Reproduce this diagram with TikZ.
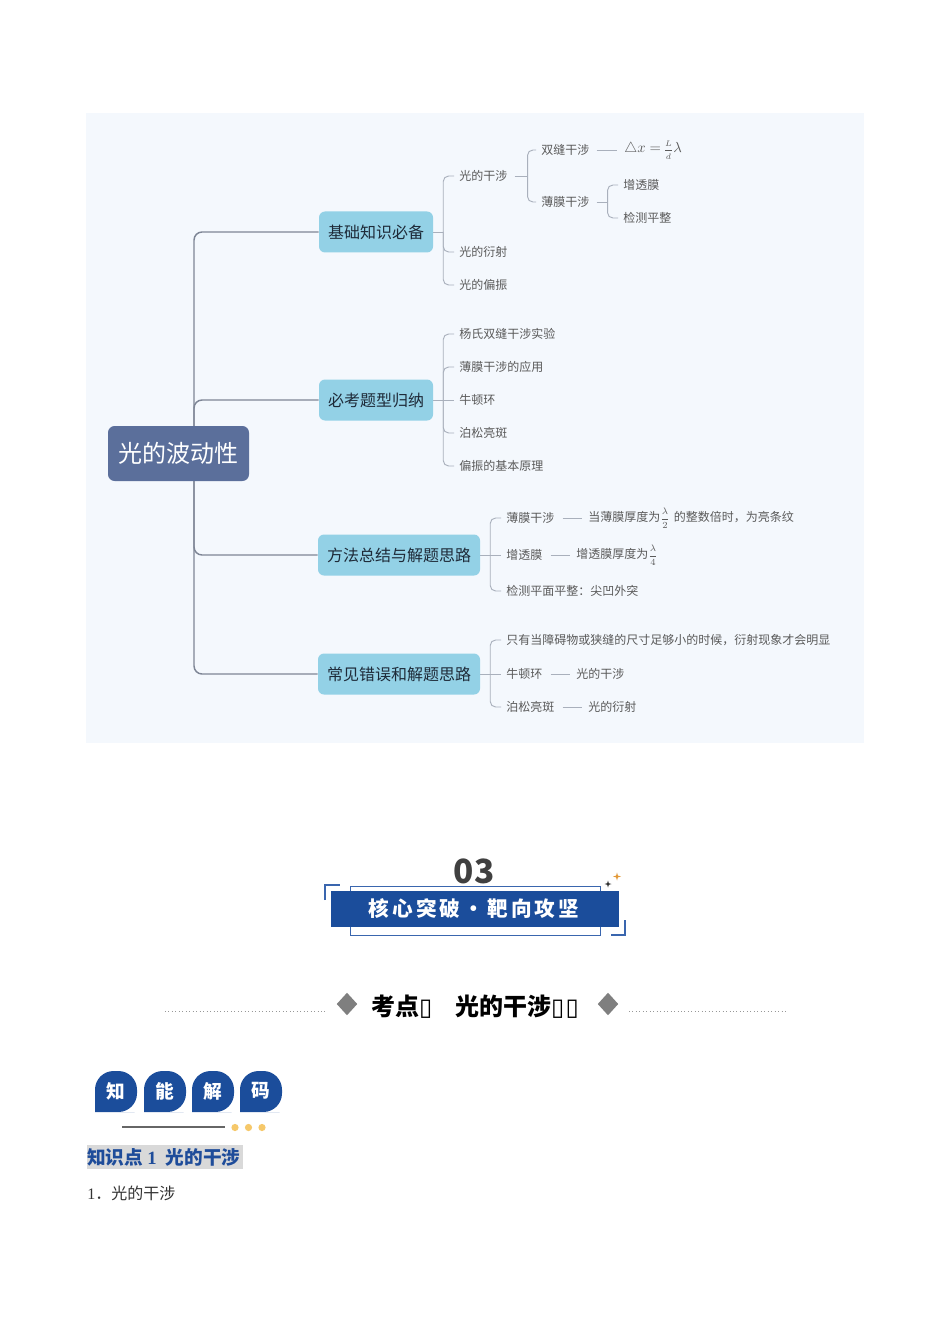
\documentclass[tikz,border=0pt]{standalone}
\usepackage{fontspec}
\setmainfont{Noto Sans CJK SC}
\newfontfamily\serifnum{Liberation Serif}
\newfontfamily\djv{DejaVu Sans}
\usetikzlibrary{calc,shapes.geometric}
\pgfdeclarelayer{back0}
\pgfdeclarelayer{conn}
\pgfsetlayers{back0,conn,main}
\definecolor{panel}{HTML}{F4F8FD}
\definecolor{rootc}{HTML}{5B6F9B}
\definecolor{lonec}{HTML}{93D1E6}
\definecolor{lonetext}{HTML}{1E2A38}
\definecolor{trunkc}{HTML}{7E8696}
\definecolor{leafline}{HTML}{A9B0BC}
\definecolor{leaftext}{HTML}{5A5A5A}
\definecolor{bannerblue}{HTML}{1B4D9B}
\definecolor{bannerline}{HTML}{3A66AE}
\definecolor{headblue}{HTML}{1E4C9A}
\definecolor{dotc}{HTML}{F6C86A}
\definecolor{sparkor}{HTML}{E39A3B}
\definecolor{diamc}{HTML}{7F7F7F}
\newcommand\lsp{\hspace{2.3pt}}
\newcommand\smallfrac[3]{{\fontsize{#3}{8}\selectfont$\displaystyle\frac{#1}{#2}$}}
\begin{document}
\begin{tikzpicture}[x=0.75pt,y=-0.75pt,
  rootbox/.style={fill=rootc,rounded corners=5pt,text=white,font=\fontsize{18}{20}\selectfont,minimum width=105.75pt,minimum height=41.25pt,inner sep=0pt},
  lone/.style={fill=lonec,rounded corners=4.5pt,text=lonetext,font=\fontsize{12}{14}\selectfont,minimum height=30.75pt,inner xsep=6.75pt,inner ysep=0pt},
  leaf/.style={anchor=west,inner sep=0pt,text=leaftext,font=\fontsize{9}{11}\selectfont},
  trunk/.style={draw=trunkc,line width=1.1pt,rounded corners=6pt},
  br/.style={draw=leafline,line width=0.7pt,rounded corners=4pt},
  badge/.style={fill=bannerblue},
  badgetext/.style={text=white,font=\fontsize{14}{16}\bfseries\selectfont,inner sep=0pt}
]
\useasboundingbox (0,0) rectangle (950,1344);
\begin{pgfonlayer}{back0}
  \fill[white] (0,0) rectangle (950,1344);
  \fill[panel] (86,113) rectangle (864,743);
\end{pgfonlayer}

% ---------- mind map nodes ----------
\node[rootbox] (root) at (178.5,453.5) {光的波动性};
\node[lone] (a) at (376,232) {基础知识必备};
\node[lone] (b) at (376,400) {必考题型归纳};
\node[lone] (c) at (399,555) {方法总结与解题思路};
\node[lone] (d) at (399,674) {常见错误和解题思路};

% group a
\node[leaf] (a1) at (459,176) {光的干涉};
\node[leaf] (a2) at (459,252) {光的衍射};
\node[leaf] (a3) at (459,285) {光的偏振};
\node[leaf] (a11) at (541,150) {双缝干涉};
\node[leaf,font=\fontsize{11}{13}\selectfont] (a11f) at (624,150) {$\triangle x=$\,\smallfrac{L}{d}{6.5}$\lambda$};
\node[leaf] (a12) at (541,202) {薄膜干涉};
\node[leaf] (a121) at (623,185) {增透膜};
\node[leaf] (a122) at (623,218) {检测平整};

% group b
\node[leaf] (b1) at (459,334) {杨氏双缝干涉实验};
\node[leaf] (b2) at (459,367) {薄膜干涉的应用};
\node[leaf] (b3) at (459,400) {牛顿环};
\node[leaf] (b4) at (459,433) {泊松亮斑};
\node[leaf] (b5) at (459,466) {偏振的基本原理};

% group c
\node[leaf] (c1) at (506,518) {薄膜干涉};
\node[leaf] (c1b) at (588,518) {当薄膜厚度为\smallfrac{\lambda}{2}{7.5}\hspace{3pt}的整数倍时，为亮条纹};
\node[leaf] (c2) at (506,555) {增透膜};
\node[leaf] (c2b) at (576,555) {增透膜厚度为\smallfrac{\lambda}{4}{7.5}};
\node[leaf] (c3) at (506,591) {检测平面平整：尖凹外突};

% group d
\node[leaf] (d1) at (506,640) {只有当障碍物或狭缝的尺寸足够小的时候，衍射现象才会明显};
\node[leaf] (d2) at (506,674) {牛顿环};
\node[leaf] (d2b) at (576,674) {光的干涉};
\node[leaf] (d3) at (506,707) {泊松亮斑};
\node[leaf] (d3b) at (588,707) {光的衍射};

\coordinate (tr) at (194,453.5);
\coordinate (ja) at ($(a.east)+(10,0)$);
\coordinate (jb) at ($(b.east)+(10,0)$);
\coordinate (jc) at ($(c.east)+(10,0)$);
\coordinate (jd) at ($(d.east)+(10,0)$);
\coordinate (ja1) at ($(a1.east)+(20,0)$);
\coordinate (ja12) at ($(a12.east)+(18,0)$);

\begin{pgfonlayer}{conn}
  % trunk
  \draw[trunk] (tr) |- (a.west);
  \draw[trunk] (tr) |- (b.west);
  \draw[trunk] (tr) |- (c.west);
  \draw[trunk] (tr) |- (d.west);
  % group a
  \draw[br] (a.east) -- (ja);
  \draw[br] (ja) |- ($(a1.west)+(-5,0)$);
  \draw[br] (ja) |- ($(a2.west)+(-5,0)$);
  \draw[br] (ja) |- ($(a3.west)+(-5,0)$);
  \draw[br] ($(a1.east)+(7,0)$) -- (ja1);
  \draw[br] (ja1) |- ($(a11.west)+(-5,0)$);
  \draw[br] (ja1) |- ($(a12.west)+(-5,0)$);
  \draw[br] ($(a11.east)+(7,0)$) -- ($(a11f.west)+(-7,0)$);
  \draw[br] ($(a12.east)+(7,0)$) -- (ja12);
  \draw[br] (ja12) |- ($(a121.west)+(-5,0)$);
  \draw[br] (ja12) |- ($(a122.west)+(-5,0)$);
  % group b
  \draw[br] (b.east) -- (jb);
  \draw[br] (jb) |- ($(b1.west)+(-5,0)$);
  \draw[br] (jb) |- ($(b2.west)+(-5,0)$);
  \draw[br] (jb) -- ($(b3.west)+(-5,0)$);
  \draw[br] (jb) |- ($(b4.west)+(-5,0)$);
  \draw[br] (jb) |- ($(b5.west)+(-5,0)$);
  % group c
  \draw[br] (c.east) -- (jc);
  \draw[br] (jc) |- ($(c1.west)+(-5,0)$);
  \draw[br] (jc) -- ($(c2.west)+(-5,0)$);
  \draw[br] (jc) |- ($(c3.west)+(-5,0)$);
  \draw[br] ($(c1.east)+(8,0)$) -- ($(c1b.west)+(-6,0)$);
  \draw[br] ($(c2.east)+(8,0)$) -- ($(c2b.west)+(-6,0)$);
  % group d
  \draw[br] (d.east) -- (jd);
  \draw[br] (jd) |- ($(d1.west)+(-5,0)$);
  \draw[br] (jd) -- ($(d2.west)+(-5,0)$);
  \draw[br] (jd) |- ($(d3.west)+(-5,0)$);
  \draw[br] ($(d2.east)+(8,0)$) -- ($(d2b.west)+(-6,0)$);
  \draw[br] ($(d3.east)+(8,0)$) -- ($(d3b.west)+(-6,0)$);
\end{pgfonlayer}

% ---------- section banner ----------
\node[font=\fontsize{25}{28}\bfseries\selectfont,text=black!75,inner sep=0pt] (num) at (474,871) {03};
\draw[bannerline,line width=0.6pt] (350,886) rectangle (600,935);
\fill[bannerblue] (331,891) rectangle (619,927);
\node[text=white,font=\fontsize{15.5}{17}\bfseries\selectfont,inner sep=0pt] (bt) at (474,909)
  {核\lsp 心\lsp 突\lsp 破\lsp ・\lsp 靶\lsp 向\lsp 攻\lsp 坚};
\draw[bannerline,line width=1.4pt] (325,900) -- (325,885) -- (340,885);
\draw[bannerline,line width=1.4pt] (625,920) -- (625,935) -- (611,935);
\fill[black!80] (608,880.5) -- (608.8,883.2) -- (611.5,884) -- (608.8,884.8) -- (608,887.5) -- (607.2,884.8) -- (604.5,884) -- (607.2,883.2) -- cycle;
\fill[sparkor] (617,872.5) -- (617.9,875.6) -- (621,876.5) -- (617.9,877.4) -- (617,880.5) -- (616.1,877.4) -- (613,876.5) -- (616.1,875.6) -- cycle;

% ---------- title row ----------
\draw[diamc!80,dotted,line width=0.6pt] (165,1011) -- (325,1011);
\draw[diamc!80,dotted,line width=0.6pt] (629,1011) -- (787,1011);
\node[diamond,fill=diamc,minimum width=15.5pt,minimum height=17pt,inner sep=0pt] (dl) at (347,1004) {};
\node[diamond,fill=diamc,minimum width=15.5pt,minimum height=17pt,inner sep=0pt] (dr) at (608,1004) {};
\node[font=\fontsize{18}{20}\bfseries\selectfont,text=black,inner sep=0pt] (tt) at (475,1007)
  {考点{\djv\mdseries ▯}\hspace{17pt}光的干涉{\djv\mdseries ▯\hspace{1pt}▯}};

% ---------- badges ----------
\foreach \cx/\t/\n in {116/知/k1,165/能/k2,213/解/k3,261/码/k4} {
  \fill[badge] (\cx-21,1092) [rounded corners=14pt] -- (\cx-21,1071) -- (\cx+21,1071) -- (\cx+21,1112) -- (\cx,1112) [sharp corners] -- (\cx-21,1112) -- cycle;
  \node[badgetext] (\n) at (\cx,1091) {\t};
}
\draw[black!60,line width=0.9pt] (122,1127) -- (225,1127);
\fill[dotc] (235,1127.5) circle[radius=2.7pt];
\fill[dotc] (248.5,1127.5) circle[radius=2.7pt];
\fill[dotc] (262,1127.5) circle[radius=2.7pt];

% ---------- heading ----------
\fill[black!15] (87,1145) rectangle (243,1169);
\node[anchor=west,inner sep=0pt,text=headblue,font=\fontsize{14}{16}\bfseries\selectfont] (h) at (87,1157)
  {知识点\hspace{3pt}{\serifnum 1}\hspace{7pt}光的干涉};
\node[anchor=west,inner sep=0pt,text=black!80,font=\fontsize{12}{14}\selectfont] (p1) at (87,1193)
  {{\serifnum 1}．光的干涉};
\end{tikzpicture}
\end{document}
